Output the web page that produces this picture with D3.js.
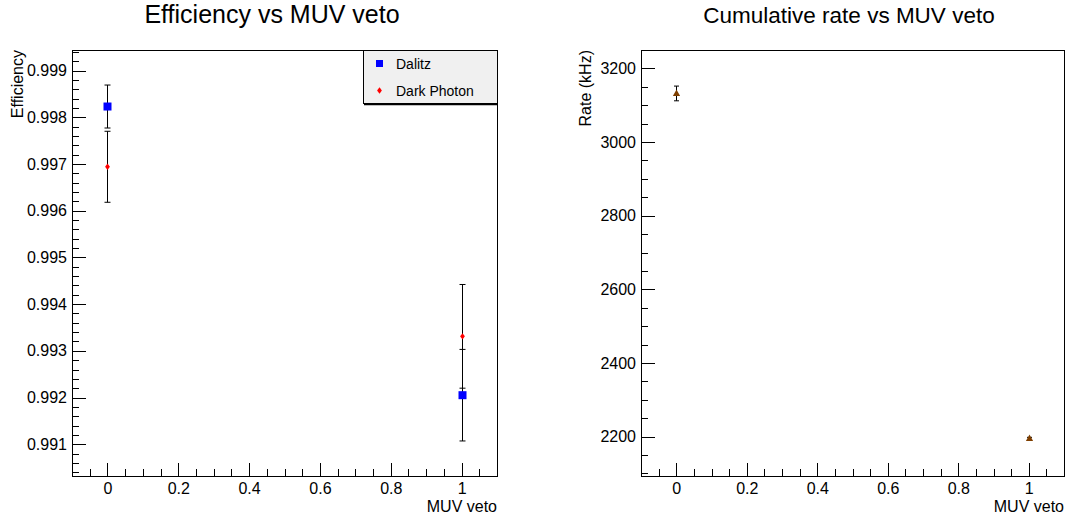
<!DOCTYPE html>
<html>
<head>
<meta charset="utf-8">
<script src="https://cdn.jsdelivr.net/npm/d3@7"></script>
<style>
  html, body { margin: 0; padding: 0; background: #fff; }
  svg { display: block; font-family: "Liberation Sans", Arial, Helvetica, sans-serif; }
  .axis text { fill: #000; }
  .axis line { stroke: #000; shape-rendering: crispEdges; }
</style>
</head>
<body>
<svg id="chart" width="1066" height="520"></svg>
<script>
// MUV veto settings (x values shared by both panels)
const vetoValues = [0, 1];

// Efficiency per sample, with statistical errors
const dalitzEff = [0.99823, 0.99205];
const dalitzErr = [0.00046, 0.00098];
const darkPhotonEff = [0.99694, 0.99331];
const darkPhotonErr = [0.00076, 0.00111];

// Cumulative rate (kHz)
const rateKHz = [3132, 2195];
const rateErr = [20, 3];

// Axis ranges and ticks
const vetoRange = [-0.1, 1.1];
const vetoMajorTicks = [0, 0.2, 0.4, 0.6, 0.8, 1];
const effRange = [0.99032, 0.99944];
const effMajorTicks = [0.991, 0.992, 0.993, 0.994, 0.995, 0.996, 0.997, 0.998, 0.999];
const rateRange = [2093, 3250];
const rateMajorTicks = [2200, 2400, 2600, 2800, 3000, 3200];

const legendLabels = ["Dalitz", "Dark Photon"];

const svg = d3.select("#chart");

function minorTicks(domain, step) {
  const out = [];
  const start = Math.ceil(domain[0] / step - 1e-9);
  const end = Math.floor(domain[1] / step + 1e-9);
  for (let i = start; i <= end; i++) {
    const v = +(i * step).toFixed(8);
    if (v > domain[0] && v < domain[1]) out.push(v);
  }
  return out;
}

function drawPanel(cfg) {
  const g = svg.append("g");
  const x = d3.scaleLinear().domain(vetoRange).range([cfg.left, cfg.right]);
  const y = d3.scaleLinear().domain(cfg.yRange).range([cfg.bottom, cfg.top]);

  // minor + major x ticks (inside the frame)
  g.append("g").attr("class", "axis")
    .attr("transform", `translate(0,${cfg.bottom})`)
    .call(d3.axisBottom(x).tickValues(minorTicks(vetoRange, 0.05)).tickSize(-7).tickFormat(""))
    .call(a => a.select(".domain").remove());
  g.append("g").attr("class", "axis")
    .attr("transform", `translate(0,${cfg.bottom})`)
    .call(d3.axisBottom(x).tickValues(vetoMajorTicks).tickSize(-13).tickPadding(7)
      .tickFormat(d3.format("~g")))
    .call(a => a.select(".domain").remove())
    .call(a => a.selectAll("text").attr("font-size", 16).attr("dy", "0.71em").attr("y", 7));

  // minor + major y ticks
  g.append("g").attr("class", "axis")
    .attr("transform", `translate(${cfg.left},0)`)
    .call(d3.axisLeft(y).tickValues(minorTicks(cfg.yRange, cfg.minorStep)).tickSize(-7).tickFormat(""))
    .call(a => a.select(".domain").remove());
  g.append("g").attr("class", "axis")
    .attr("transform", `translate(${cfg.left},0)`)
    .call(d3.axisLeft(y).tickValues(cfg.yMajor).tickSize(-14).tickPadding(5).tickFormat(cfg.yFormat))
    .call(a => a.select(".domain").remove())
    .call(a => a.selectAll("text").attr("font-size", 16));

  // frame
  g.append("rect")
    .attr("x", cfg.left + 0.5).attr("y", cfg.top + 0.5)
    .attr("width", cfg.right - cfg.left).attr("height", cfg.bottom - cfg.top)
    .attr("fill", "none").attr("stroke", "#000").attr("stroke-width", 1)
    .attr("shape-rendering", "crispEdges");

  // titles
  svg.append("text")
    .attr("x", cfg.titleX).attr("y", 23)
    .attr("text-anchor", "middle").attr("font-size", cfg.titleSize).attr("fill", "#000")
    .text(cfg.title);
  svg.append("text")
    .attr("x", cfg.right).attr("y", 512)
    .attr("text-anchor", "end").attr("font-size", 16).attr("fill", "#000")
    .text("MUV veto");
  svg.append("text")
    .attr("transform", `translate(${cfg.yTitleX},${cfg.top}) rotate(-90)`)
    .attr("text-anchor", "end").attr("font-size", 16).attr("fill", "#000")
    .text(cfg.yTitle);

  return { g, x, y };
}

function errorBars(g, x, y, xs, vals, errs, capHalf) {
  xs.forEach((xv, i) => {
    const cx = x(xv), y1 = y(vals[i] + errs[i]), y0 = y(vals[i] - errs[i]);
    const px = Math.round(cx) + 0.5;
    g.append("line").attr("x1", px).attr("x2", px).attr("y1", y1).attr("y2", y0)
      .attr("stroke", "#000").attr("stroke-width", 1);
    [y1, y0].forEach(yy => {
      g.append("line").attr("x1", px - capHalf).attr("x2", px + capHalf).attr("y1", yy).attr("y2", yy)
        .attr("stroke", "#000").attr("stroke-width", 1);
    });
  });
}

// ---- Left panel: efficiency ----
const eff = drawPanel({
  left: 72, right: 497, top: 50, bottom: 476,
  yRange: effRange, yMajor: effMajorTicks, minorStep: 0.0002,
  yFormat: d3.format(".3f"),
  title: "Efficiency vs MUV veto", titleX: 272, titleSize: 25,
  yTitle: "Efficiency", yTitleX: 23
});

errorBars(eff.g, eff.x, eff.y, vetoValues, darkPhotonEff, darkPhotonErr, 3);
errorBars(eff.g, eff.x, eff.y, vetoValues, dalitzEff, dalitzErr, 3);

eff.g.selectAll(".dp").data(vetoValues).join("path")
  .attr("class", "dp")
  .attr("transform", (d, i) => `translate(${Math.round(eff.x(d)) + 0.5},${eff.y(darkPhotonEff[i])})`)
  .attr("d", "M0,-3.2L2.4,0L0,3.2L-2.4,0Z")
  .attr("fill", "#ff0000");

eff.g.selectAll(".dz").data(vetoValues).join("rect")
  .attr("class", "dz")
  .attr("x", d => Math.round(eff.x(d)) + 0.5 - 4)
  .attr("y", (d, i) => eff.y(dalitzEff[i]) - 4)
  .attr("width", 8).attr("height", 8)
  .attr("fill", "#0000ff");

// legend
const leg = eff.g.append("g");
leg.append("rect").attr("x", 363.5).attr("y", 50.5).attr("width", 134).attr("height", 53)
  .attr("fill", "#f0f0f0").attr("stroke", "#000").attr("stroke-width", 1);
leg.append("line").attr("x1", 364).attr("x2", 498).attr("y1", 104.5).attr("y2", 104.5)
  .attr("stroke", "#000").attr("stroke-width", 1.5);
leg.append("rect").attr("x", 376).attr("y", 60).attr("width", 7).attr("height", 7).attr("fill", "#0000ff");
leg.append("path").attr("transform", "translate(379.5,90.5)")
  .attr("d", "M0,-3.2L2.4,0L0,3.2L-2.4,0Z").attr("fill", "#ff0000");
leg.selectAll(".lt").data(legendLabels).join("text")
  .attr("class", "lt")
  .attr("x", 396).attr("y", (d, i) => 69 + i * 26.5)
  .attr("font-size", 14).attr("fill", "#000")
  .text(d => d);

// ---- Right panel: rate ----
const rate = drawPanel({
  left: 641, right: 1064, top: 50, bottom: 476,
  yRange: rateRange, yMajor: rateMajorTicks, minorStep: 50,
  yFormat: d3.format("d"),
  title: "Cumulative rate vs MUV veto", titleX: 849, titleSize: 22.5,
  yTitle: "Rate (kHz)", yTitleX: 591
});

errorBars(rate.g, rate.x, rate.y, vetoValues, rateKHz, rateErr, 2.5);

rate.g.selectAll(".rt").data(vetoValues).join("path")
  .attr("class", "rt")
  .attr("transform", (d, i) => `translate(${Math.round(rate.x(d)) + 0.5},${rate.y(rateKHz[i])})`)
  .attr("d", "M0,-4L3.6,2.6L-3.6,2.6Z")
  .attr("fill", "#7f3f00");
</script>
</body>
</html>
